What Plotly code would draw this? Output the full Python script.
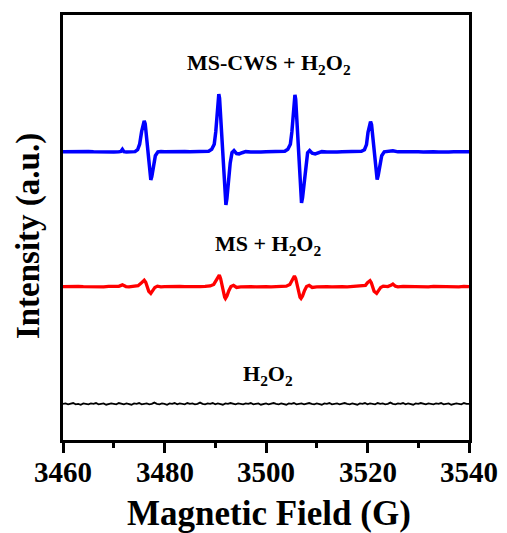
import plotly.graph_objects as go

# ---- EPR spectra (field in G, intensity in a.u., traces offset vertically) ----
# MS-CWS + H2O2
blue_field = [3460, 3461, 3462, 3463, 3464, 3465, 3466, 3467, 3468, 3469, 3470, 3471,
              3471.4, 3471.7, 3472.0, 3472.5, 3473, 3473.6, 3474.2, 3474.7, 3475.1, 3475.5,
              3475.8, 3476.0, 3476.2, 3476.45, 3476.7, 3476.95, 3477.15, 3477.3, 3477.5,
              3477.8, 3478.2, 3478.7, 3479.3, 3480, 3481, 3482, 3483, 3484, 3485, 3486,
              3487, 3488, 3488.7, 3489.3, 3489.8, 3490.1, 3490.4, 3490.6, 3490.7, 3490.85,
              3491.05, 3491.3, 3491.55, 3491.8, 3492.0, 3492.1, 3492.3, 3492.6, 3492.95,
              3493.3, 3493.7, 3494.2, 3494.7, 3495.3, 3496, 3497, 3498, 3499, 3500, 3501,
              3502, 3503, 3503.7, 3504.3, 3504.8, 3505.1, 3505.4, 3505.6, 3505.7, 3505.85,
              3506.05, 3506.3, 3506.5, 3506.75, 3506.9, 3507.0, 3507.2, 3507.5, 3507.85,
              3508.2, 3508.6, 3509.1, 3509.7, 3510.3, 3511, 3512, 3513, 3514, 3515, 3516,
              3517, 3518, 3518.8, 3519.4, 3519.8, 3520.1, 3520.4, 3520.6, 3520.8, 3521.05,
              3521.3, 3521.55, 3521.75, 3521.9, 3522.1, 3522.4, 3522.8, 3523.3, 3524, 3525,
              3526, 3527, 3528, 3529, 3530, 3531, 3532, 3533, 3534, 3535, 3536, 3537, 3538,
              3539, 3540]
blue_int = [67.8, 67.85, 67.75, 67.85, 67.8, 67.9, 67.8, 67.75, 67.85, 67.8, 67.75, 67.85,
            67.9, 68.4, 67.85, 67.75, 67.8, 67.75, 67.85, 68.3, 69.6, 72.6,
            74.6, 75.1, 74.4, 71.5, 67.6, 63.8, 61.8, 61.2, 62.0,
            64.5, 66.9, 67.8, 67.9, 67.8, 67.85, 67.75, 67.8, 67.9, 67.8, 67.85,
            67.8, 67.8, 67.95, 68.4, 69.6, 72.5, 77.5, 80.6, 81.4, 80.4,
            76.0, 70.5, 64.0, 58.6, 55.8, 55.3, 56.8, 60.8, 65.2,
            67.6, 68.1, 67.4, 67.3, 67.6, 67.85, 67.75, 67.85, 67.75, 67.8, 67.85,
            67.75, 67.8, 67.95, 68.4, 69.6, 72.5, 77.5, 80.6, 81.2, 80.2,
            76.0, 70.5, 64.0, 58.6, 56.2, 55.8, 57.0, 60.8, 65.2,
            67.6, 68.1, 67.5, 67.3, 67.5, 67.85, 67.75, 67.85, 67.75, 67.8, 67.85,
            67.75, 67.8, 67.95, 68.3, 69.5, 72.4, 74.5, 74.9, 74.2, 71.3,
            67.5, 63.7, 61.7, 61.3, 62.2, 64.6, 66.9, 67.8, 67.95, 68.05,
            67.8, 67.85, 67.75, 67.85, 67.8, 67.75, 67.85, 67.8, 67.75, 67.85, 67.75, 67.8,
            67.85, 67.75, 67.8]

# MS + H2O2
red_field = [3460, 3461, 3462, 3463, 3464, 3465, 3466, 3467, 3468, 3469, 3470, 3471,
             3471.7, 3472.4, 3473, 3474, 3474.8, 3475.3, 3475.7, 3476.0, 3476.3, 3476.6,
             3476.9, 3477.3, 3477.7, 3478.1, 3478.6, 3479.3, 3480, 3481, 3482, 3483,
             3484, 3485, 3486, 3487, 3488, 3489, 3489.7, 3490.2, 3490.5, 3490.8, 3491.05,
             3491.3, 3491.6, 3491.85, 3492.0, 3492.3, 3492.7, 3493.1, 3493.6, 3494.2,
             3495, 3496, 3497, 3498, 3499, 3500, 3501, 3502, 3503, 3504, 3504.7, 3505.1,
             3505.4, 3505.6, 3505.85, 3506.1, 3506.4, 3506.7, 3506.9, 3507.2, 3507.6,
             3508.0, 3508.5, 3509.1, 3510, 3511, 3512, 3513, 3514, 3515, 3516, 3517,
             3518, 3519, 3519.6, 3520.0, 3520.3, 3520.5, 3520.75, 3521.0, 3521.3, 3521.8,
             3522.2, 3522.6, 3523.1, 3524, 3524.6, 3525.0, 3525.5, 3526, 3527, 3528,
             3529, 3530, 3531, 3532, 3533, 3534, 3535, 3536, 3537, 3538, 3539, 3540]
red_int = [36.1, 36.15, 36.05, 36.15, 36.1, 36.05, 36.15, 36.1, 36.05, 36.15, 36.1, 36.15,
           36.5, 36.1, 36.05, 36.15, 36.3, 36.8, 37.4, 37.6, 37.1, 36.0,
           35.0, 34.5, 35.1, 35.9, 36.2, 36.05, 36.1, 36.15, 36.05, 36.15,
           36.1, 36.05, 36.15, 36.1, 36.15, 36.25, 36.6, 37.6, 38.4, 38.8, 38.0,
           36.4, 34.6, 33.6, 33.3, 33.9, 35.2, 36.1, 36.4, 35.9,
           36.05, 36.15, 36.1, 36.05, 36.15, 36.1, 36.05, 36.15, 36.1, 36.2, 36.6, 37.6,
           38.3, 38.6, 38.0, 36.4, 34.6, 33.6, 33.3, 33.9, 35.2,
           36.1, 36.4, 35.9, 36.05, 36.15, 36.1, 36.05, 36.15, 36.1, 36.05, 36.15,
           36.1, 36.2, 36.4, 37.0, 37.4, 37.5, 37.0, 36.0, 35.0, 34.5,
           35.1, 35.9, 36.2, 36.1, 36.4, 36.7, 36.2, 36.05, 36.15, 36.1,
           36.05, 36.15, 36.1, 36.05, 36.15, 36.1, 36.05, 36.15, 36.1, 36.05, 36.15, 36.1]

# H2O2 alone (0.5 G sampling)
black_field = [3460 + 0.5 * i for i in range(161)]
black_int = [8.5, 8.6, 8.4, 8.5, 8.7, 8.4, 8.5, 8.3, 8.6, 8.5,
             8.4, 8.6, 8.5, 8.7, 8.4, 8.5, 8.6, 8.3, 8.5, 8.6,
             8.5, 8.4, 8.7, 8.5, 8.4, 8.6, 8.5, 8.3, 8.6, 8.5,
             8.7, 8.4, 8.5, 8.6, 8.4, 8.5, 8.8, 8.5, 8.4, 8.6,
             8.5, 8.3, 8.6, 8.5, 8.7, 8.4, 8.6, 8.5, 8.4, 8.7,
             8.5, 8.6, 8.4, 8.5, 8.8, 8.5, 8.4, 8.6, 8.5, 8.7,
             8.4, 8.6, 8.5, 8.3, 8.6, 8.5, 8.7, 8.5, 8.4, 8.6,
             8.5, 8.4, 8.6, 8.5, 8.7, 8.4, 8.5, 8.6, 8.3, 8.5,
             8.6, 8.4, 8.5, 8.7, 8.5, 8.4, 8.6, 8.5, 8.3, 8.6,
             8.5, 8.7, 8.4, 8.5, 8.6, 8.4, 8.5, 8.7, 8.5, 8.4,
             8.6, 8.5, 8.3, 8.6, 8.5, 8.7, 8.4, 8.5, 8.6, 8.4,
             8.5, 8.7, 8.5, 8.4, 8.6, 8.5, 8.3, 8.6, 8.5, 8.7,
             8.4, 8.6, 8.5, 8.4, 8.7, 8.5, 8.6, 8.4, 8.5, 8.8,
             8.5, 8.4, 8.6, 8.5, 8.7, 8.4, 8.6, 8.5, 8.3, 8.6,
             8.5, 8.7, 8.5, 8.4, 8.6, 8.5, 8.4, 8.6, 8.5, 8.7,
             8.4, 8.5, 8.6, 8.3, 8.5, 8.6, 8.5, 8.4, 8.7, 8.5,
             8.5]

labels = ["MS-CWS + H<sub>2</sub>O<sub>2</sub>",
          "MS + H<sub>2</sub>O<sub>2</sub>",
          "H<sub>2</sub>O<sub>2</sub>"]
label_pos = [(3500.6, 88.4), (3500.4, 45.8), (3500.4, 15.2)]

x_ticks = [3460, 3480, 3500, 3520, 3540]

SERIF = "Liberation Serif, Times New Roman, serif"

fig = go.Figure()
fig.add_trace(go.Scatter(x=black_field, y=black_int, mode="lines",
                         line=dict(color="#000000", width=1.8)))
fig.add_trace(go.Scatter(x=red_field, y=red_int, mode="lines",
                         line=dict(color="#ff0000", width=3.3)))
fig.add_trace(go.Scatter(x=blue_field, y=blue_int, mode="lines",
                         line=dict(color="#0000ff", width=3.5)))

for text, (lx, ly) in zip(labels, label_pos):
    fig.add_annotation(x=lx, y=ly, text=f"<b>{text}</b>", showarrow=False,
                       xanchor="center", yanchor="middle",
                       font=dict(family=SERIF, size=22, color="#000000"))

# tick labels placed just below the tick marks
for v in x_ticks:
    fig.add_annotation(x=v, xref="x", yref="paper", y=-0.075, text=f"<b>{v}</b>",
                       showarrow=False, xanchor="center", yanchor="middle",
                       font=dict(family=SERIF, size=29, color="#000000"))

fig.add_annotation(xref="paper", yref="paper", x=0.507, y=-0.172,
                   text="<b>Magnetic Field (G)</b>", showarrow=False,
                   xanchor="center", yanchor="middle",
                   font=dict(family=SERIF, size=35, color="#000000"))
fig.add_annotation(xref="paper", yref="paper", x=-0.086, y=0.48,
                   text="<b>Intensity (a.u.)</b>", showarrow=False, textangle=-90,
                   xanchor="center", yanchor="middle",
                   font=dict(family=SERIF, size=33, color="#000000"))

fig.update_layout(
    width=507, height=533,
    margin=dict(l=63, r=38, t=15, b=93),
    paper_bgcolor="white", plot_bgcolor="white",
    showlegend=False,
    xaxis=dict(range=[3460, 3540], tickvals=x_ticks, showticklabels=False,
               ticks="outside", ticklen=10, tickwidth=2.5, tickcolor="#000000",
               minor=dict(dtick=10, tick0=3460, ticks="outside", ticklen=5,
                          tickwidth=2.5, tickcolor="#000000"),
               showline=True, linewidth=2.5, linecolor="#000000", mirror=True,
               showgrid=False, zeroline=False),
    yaxis=dict(range=[0, 100], showticklabels=False, ticks="",
               showline=True, linewidth=2.5, linecolor="#000000", mirror=True,
               showgrid=False, zeroline=False),
)

fig.write_html("out.html")
